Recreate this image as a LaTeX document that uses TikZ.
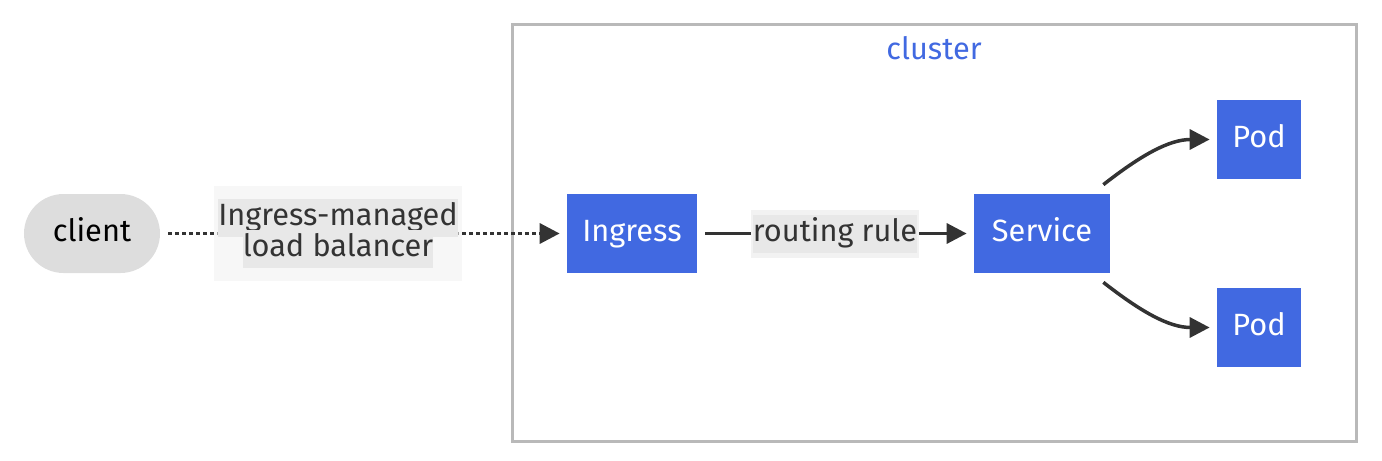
\documentclass[tikz,border=0pt]{standalone}
\usepackage{fontspec}
\setmainfont{Fira Sans}
\usepackage{tikz}
\usetikzlibrary{arrows.meta,calc,positioning}
\definecolor{RoyalBlue}{RGB}{65,105,225}
\definecolor{ClientGray}{RGB}{221,221,221}
\definecolor{EdgeGray}{RGB}{51,51,51}
\definecolor{FrameGray}{RGB}{185,185,185}
\definecolor{LabelBack}{RGB}{232,232,232}
\definecolor{LabelPad}{RGB}{242,242,242}

\begin{document}
\begin{tikzpicture}[>={Triangle[length=0.4cm,width=0.4cm]},
  font=\fontsize{17.5}{21.5}\selectfont,
  kube/.style={fill=RoyalBlue,text=white,minimum height=1.58cm,inner sep=0pt,text height=0.45cm,text depth=0.12cm},
  link/.style={->,draw=EdgeGray,line width=0.07cm,shorten >=0.14cm},
  lbl/.style={fill=LabelPad,fill opacity=0.6,text opacity=1,text=EdgeGray,align=center,inner sep=0pt}]
\useasboundingbox (0,0) rectangle (27.64,9.2);
\setlength{\fboxsep}{0pt}
% cluster frame
\draw[FrameGray,line width=0.06cm] (10.24,0.38) rectangle (27.12,8.7);
\node[text=RoyalBlue] (title) at (18.68,8.24) {cluster};
% nodes
\node[fill=ClientGray,rounded corners=0.79cm,minimum width=2.72cm,minimum height=1.58cm,inner sep=0pt,text height=0.45cm,text depth=0.12cm] (client) at (1.84,4.53) {client};
\node[kube,minimum width=2.6cm] (ingress) at (12.64,4.53) {Ingress};
\node[kube,minimum width=2.72cm] (svc) at (20.84,4.53) {Service};
\node[kube,minimum width=1.68cm] (pod1) at (25.18,6.41) {Pod};
\node[kube,minimum width=1.68cm] (pod2) at (25.18,2.65) {Pod};
% edges
\draw[link,dash pattern=on 0.08cm off 0.06cm,shorten <=0.16cm] (client)--(ingress);
\node[lbl,minimum width=4.96cm,minimum height=1.9cm] (lb) at (6.76,4.53)
  {\colorbox{LabelBack}{\strut Ingress-managed}\\[-4pt]\colorbox{LabelBack}{\strut load balancer}};
\draw[link,shorten <=0.16cm] (ingress)--(svc);
\node[lbl,fill opacity=1,minimum width=3.36cm,minimum height=0.96cm,anchor=north] (rule) at (16.7,5.0)
  {\colorbox{LabelBack}{\strut routing rule}};
\draw[link] ([shift={(-0.14,0.18)}]svc.north east) to[out=38,in=180] (pod1.west);
\draw[link] ([shift={(-0.14,-0.18)}]svc.south east) to[out=-38,in=180] (pod2.west);
\end{tikzpicture}
\end{document}
